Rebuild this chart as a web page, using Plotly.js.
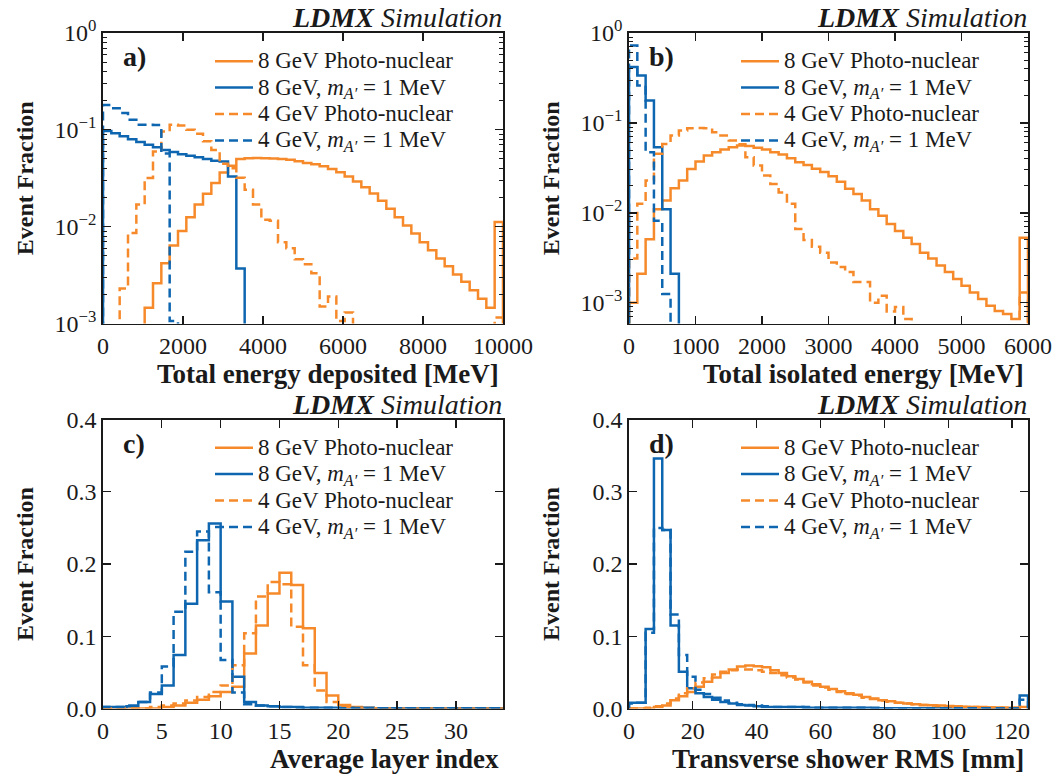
<!DOCTYPE html>
<html><head><meta charset="utf-8">
<script src="https://cdn.plot.ly/plotly-3.0.1.min.js"></script>
<style>html,body{margin:0;padding:0;background:#fff}#chart{width:1059px;height:776px}</style>
</head><body><div id="chart"></div>
<script>
// ---------------- DATA (event fractions per bin) ----------------
// Panel a: Total energy deposited [MeV], 48 bins over 0-10000 (last bin holds overflow)
const RANGE_A = [0, 10000];
const PN8_A = [0,0,0,0,0,0.00145,0.0026,0.0042,0.0064,0.0090,0.0125,0.0169,0.0219,0.0282,0.0363,0.0426,0.0499,0.0510,0.0512,0.0510,0.0506,0.0500,0.0490,0.0475,0.0455,0.0440,0.0420,0.0395,0.0365,0.0330,0.0292,0.0255,0.0220,0.0185,0.0153,0.0125,0.0103,0.0085,0.0069,0.0057,0.0047,0.0039,0.0032,0.0027,0.0022,0.0018,0.00145,0.0112];
const AP8_A = [0.097,0.092,0.086,0.080,0.075,0.070,0.066,0.062,0.059,0.056,0.054,0.052,0.050,0.048,0.047,0.033,0.0037,0,0,0,0,0,0,0,0,0,0,0,0,0,0,0,0,0,0,0,0,0,0,0,0,0,0,0,0,0,0,0];
const PN4_A = [0,0,0.0023,0.0086,0.0169,0.0318,0.0598,0.096,0.113,0.111,0.100,0.091,0.076,0.062,0.0446,0.040,0.032,0.024,0.0169,0.0118,0.0115,0.0069,0.0060,0.0046,0.0041,0.0033,0.0015,0.0019,0.00106,0.0013,0,0,0,0,0,0,0,0,0,0,0,0,0,0,0,0,0,0.00115];
const AP4_A = [0.181,0.167,0.149,0.127,0.113,0.113,0.112,0.057,0.00106,0,0,0,0,0,0,0,0,0,0,0,0,0,0,0,0,0,0,0,0,0,0,0,0,0,0,0,0,0,0,0,0,0,0,0,0,0,0,0];

// Panel b: Total isolated energy [MeV], 48 bins over 0-6000
const RANGE_B = [0, 6000];
const PN8_B = [0.0010,0.0021,0.0051,0.0110,0.0137,0.0188,0.0229,0.0308,0.0372,0.0434,0.0473,0.0506,0.0537,0.0560,0.0553,0.0529,0.0506,0.0473,0.0446,0.0405,0.0366,0.0340,0.0310,0.0285,0.0255,0.0222,0.0185,0.0162,0.0137,0.0110,0.0093,0.0075,0.0063,0.0053,0.0045,0.0036,0.0031,0.0026,0.0022,0.00184,0.00155,0.0013,0.0011,0.00093,0.00081,0.00075,0.00066,0.0053];
const AP8_B = [0.418,0.337,0.178,0.0538,0.011,0.0021,0,0,0,0,0,0,0,0,0,0,0,0,0,0,0,0,0,0,0,0,0,0,0,0,0,0,0,0,0,0,0,0,0,0,0,0,0,0,0,0,0,0];
const PN4_B = [0.0031,0.0126,0.0229,0.0453,0.0585,0.0724,0.0823,0.0875,0.0878,0.0875,0.0789,0.0724,0.0637,0.0580,0.0416,0.0336,0.0260,0.0210,0.0169,0.0126,0.0066,0.0050,0.0042,0.0036,0.0028,0.0025,0.0022,0.0017,0.0017,0.0010,0.0012,0.0008,0.0009,0.00066,0,0,0,0,0,0,0,0,0,0,0,0,0,0.0013];
const AP4_B = [0.728,0.261,0.0473,0.0082,0.00125,0,0,0,0,0,0,0,0,0,0,0,0,0,0,0,0,0,0,0,0,0,0,0,0,0,0,0,0,0,0,0,0,0,0,0,0,0,0,0,0,0,0,0];

// Panel c: Average layer index, 34 bins over 0-34
const RANGE_C = [0, 34];
const PN8_C = [0,0,0,0,0,0.002,0.004,0.008,0.012,0.017,0.023,0.030,0.076,0.115,0.159,0.188,0.171,0.111,0.049,0.018,0.005,0.002,0.001,0.0005,0.0003,0.0002,0,0,0,0,0,0,0,0];
const AP8_C = [0.002,0.002,0.003,0.009,0.020,0.032,0.074,0.145,0.233,0.256,0.148,0.044,0.009,0.004,0.003,0.002,0.002,0.001,0.001,0.001,0.001,0.001,0.001,0.0005,0.0005,0.0005,0.0005,0.0005,0.0005,0.0003,0.0003,0.0003,0.0003,0.0003];
const PN4_C = [0,0,0,0,0.002,0.004,0.007,0.011,0.016,0.023,0.032,0.060,0.104,0.155,0.175,0.172,0.113,0.060,0.025,0.009,0.002,0.001,0.0005,0.0003,0,0,0,0,0,0,0,0,0,0];
const AP4_C = [0.002,0.002,0.004,0.009,0.022,0.058,0.134,0.217,0.245,0.161,0.067,0.022,0.006,0.004,0.003,0.002,0.001,0.001,0.001,0.001,0.0005,0.0005,0.0005,0.0005,0.0005,0.0003,0.0003,0.0003,0.0003,0.0003,0.0002,0.0002,0.0002,0.0002];

// Panel d: Transverse shower RMS [mm], 48 bins over 0-125 (last bin holds overflow)
const RANGE_D = [0, 125];
const PN8_D = [0,0,0,0.002,0.004,0.0115,0.017,0.023,0.030,0.037,0.043,0.049,0.054,0.058,0.0595,0.0586,0.057,0.053,0.049,0.0447,0.041,0.037,0.0337,0.030,0.027,0.024,0.021,0.019,0.016,0.014,0.0115,0.010,0.008,0.007,0.006,0.005,0.0045,0.004,0.0035,0.003,0.0025,0.002,0.002,0.0015,0.0015,0.001,0.001,0.002];
const AP8_D = [0.008,0.008,0.110,0.346,0.247,0.115,0.051,0.028,0.021,0.016,0.012,0.009,0.007,0.005,0.004,0.003,0.002,0.002,0.002,0.002,0.002,0.001,0.001,0.001,0.001,0.001,0.001,0.001,0.001,0.0005,0.0005,0.0005,0.0005,0.0005,0.0005,0.0003,0.0003,0.0003,0.0003,0.0003,0.0003,0.0002,0.0002,0.0002,0.0002,0.0002,0.0002,0.018];
const PN4_D = [0,0,0.001,0.003,0.007,0.014,0.021,0.028,0.036,0.042,0.047,0.051,0.053,0.054,0.054,0.053,0.051,0.049,0.046,0.043,0.040,0.036,0.032,0.029,0.026,0.023,0.020,0.018,0.015,0.013,0.011,0.0095,0.008,0.007,0.006,0.005,0.0042,0.0036,0.003,0.0025,0.002,0.002,0.0015,0.0015,0.001,0.001,0.001,0.002];
const AP4_D = [0.007,0.008,0.105,0.250,0.247,0.130,0.074,0.044,0.026,0.020,0.015,0.011,0.008,0.006,0.005,0.004,0.003,0.002,0.002,0.002,0.002,0.002,0.001,0.001,0.001,0.001,0.001,0.001,0.001,0.001,0.0005,0.0005,0.0005,0.0005,0.0005,0.0005,0.0003,0.0003,0.0003,0.0003,0.0003,0.0003,0.0002,0.0002,0.0002,0.0002,0.0002,0.012];

// Labels
const SERIES_NAMES = ['8 GeV Photo-nuclear', '8 GeV, <i>m</i><sub><i>A′</i></sub> = 1 MeV', '4 GeV Photo-nuclear', '4 GeV, <i>m</i><sub><i>A′</i></sub> = 1 MeV'];
const PANEL_TAGS = ['a)', 'b)', 'c)', 'd)'];
const X_TITLES = ['Total energy deposited [MeV]', 'Total isolated energy [MeV]', 'Average layer index', 'Transverse shower RMS [mm]'];
const Y_TITLE = 'Event Fraction';
const LOG_TICKS = [1, 0.1, 0.01, 0.001];
const LOG_TICKTEXT = ['10<sup>0</sup>', '10<sup>−1</sup>', '10<sup>−2</sup>', '10<sup>−3</sup>'];

// ---------------- STYLE / LAYOUT ----------------
const W = 1059, H = 776;
const PX = x => x / W, PY = y => 1 - y / H;
const ORANGE = '#F68A2B', BLUE = '#0E66B0';
const FONT = '"Liberation Serif", "Times New Roman", serif';
const INK = '#1a1a1a';
const STYLES = [
  {color: ORANGE, dash: 'solid'},
  {color: BLUE, dash: 'solid'},
  {color: ORANGE, dash: '9px,5px'},
  {color: BLUE, dash: '9px,5px'}
];
const BOX = [
  {l: 103, r: 503, t: 33, b: 323.5},
  {l: 629, r: 1028, t: 33, b: 323.5},
  {l: 103, r: 503, t: 419.5, b: 708.5},
  {l: 629, r: 1028, t: 419.5, b: 708.5}
];
const PANELS = [
  {range: RANGE_A, data: [PN8_A, AP8_A, PN4_A, AP4_A], log: true, yr: [-3, 0], dtick: 2000},
  {range: RANGE_B, data: [PN8_B, AP8_B, PN4_B, AP4_B], log: true, yr: [-3.23, 0], dtick: 1000},
  {range: RANGE_C, data: [PN8_C, AP8_C, PN4_C, AP4_C], log: false, yr: [0, 0.4], dtick: 5},
  {range: RANGE_D, data: [PN8_D, AP8_D, PN4_D, AP4_D], log: false, yr: [0, 0.4], dtick: 20}
];

function stepXY(range, vals, floor) {
  const lo = range[0], hi = range[1], n = vals.length, w = (hi - lo) / n;
  const xs = [lo], ys = [floor];
  for (let i = 0; i < n; i++) { xs.push(lo + i * w); ys.push(Math.max(vals[i], floor)); }
  xs.push(hi); ys.push(Math.max(vals[n - 1], floor));
  xs.push(hi); ys.push(floor);
  return {xs, ys};
}

const traces = [];
const layout = {
  width: W, height: H, margin: {l: 0, r: 0, t: 0, b: 0},
  paper_bgcolor: '#fff', plot_bgcolor: '#fff',
  font: {family: FONT, color: INK, size: 24},
  annotations: [], showlegend: true
};

const axisBase = {
  showline: true, linecolor: INK, linewidth: 1.8, mirror: 'ticks',
  ticks: 'inside', ticklen: 8, tickwidth: 1.3, tickcolor: INK,
  showgrid: false, zeroline: false, fixedrange: true,
  tickfont: {family: FONT, size: 24, color: INK}, ticklabelstandoff: 0
};

PANELS.forEach((p, i) => {
  const n = i + 1;
  const xa = n === 1 ? 'x' : 'x' + n, ya = n === 1 ? 'y' : 'y' + n;
  const legName = n === 1 ? 'legend' : 'legend' + n;
  const floor = p.log ? 1e-9 : 0;
  p.data.forEach((vals, s) => {
    const st = stepXY(p.range, vals, floor);
    traces.push({
      type: 'scatter', mode: 'lines', x: st.xs, y: st.ys, xaxis: xa, yaxis: ya,
      name: '<span style="font-size:23px">' + SERIES_NAMES[s] + '</span>',
      legend: legName, hoverinfo: 'skip',
      line: {color: STYLES[s].color, dash: STYLES[s].dash, width: 2.5, shape: 'hv', simplify: false}
    });
  });
  const b = BOX[i];
  layout['xaxis' + (n === 1 ? '' : n)] = Object.assign({}, axisBase, {
    domain: [PX(b.l), PX(b.r)], anchor: ya, range: p.range, tick0: 0, dtick: p.dtick, tickformat: 'd'
  });
  const yax = Object.assign({}, axisBase, {
    domain: [PY(b.b), PY(b.t)], anchor: xa, range: p.yr
  });
  if (p.log) {
    const minorVals = [];
    [1e-4, 1e-3, 1e-2, 1e-1].forEach(d => { for (let m = 2; m <= 9; m++) minorVals.push(m * d); });
    Object.assign(yax, {
      type: 'log', tickmode: 'array', tickvals: LOG_TICKS, ticktext: LOG_TICKTEXT,
      minor: {tickmode: 'array', tickvals: minorVals, ticks: 'inside', ticklen: 4, tickwidth: 1, tickcolor: INK}
    });
  } else {
    Object.assign(yax, {tick0: 0, dtick: 0.1, tickformat: '.1f'});
  }
  layout['yaxis' + (n === 1 ? '' : n)] = yax;

  layout[legName] = {
    x: PX(b.l + 107), y: PY(b.t + 10), xanchor: 'left', yanchor: 'top',
    bgcolor: 'rgba(0,0,0,0)', borderwidth: 0, itemwidth: 38, tracegroupgap: 0,
    font: {family: FONT, size: 18, color: INK}
  };

  layout.annotations.push(
    {xref: 'paper', yref: 'paper', x: PX(b.l + 18), y: PY(b.t + 24), xanchor: 'left', yanchor: 'middle',
     text: '<b>' + PANEL_TAGS[i] + '</b>', showarrow: false, font: {family: FONT, size: 28, color: INK}},
    {xref: 'paper', yref: 'paper', x: PX(b.r + 1), y: PY(b.t - 15.5), xanchor: 'right', yanchor: 'middle',
     text: '<b><i>LDMX</i></b><i> Simulation</i>', showarrow: false, font: {family: FONT, size: 28, color: INK}},
    {xref: 'paper', yref: 'paper', x: PX(b.r - 2), y: PY(b.b + 50.5), xanchor: 'right', yanchor: 'middle',
     text: '<b>' + X_TITLES[i] + '</b>', showarrow: false, font: {family: FONT, size: 27, color: INK}},
    {xref: 'paper', yref: 'paper', x: PX(b.l - 78), y: PY((b.t + b.b) / 2), xanchor: 'center', yanchor: 'middle',
     textangle: -90, text: '<b>' + Y_TITLE + '</b>', showarrow: false, font: {family: FONT, size: 24, color: INK}}
  );
});

Plotly.newPlot('chart', traces, layout, {displayModeBar: false, staticPlot: true});
</script></body></html>
